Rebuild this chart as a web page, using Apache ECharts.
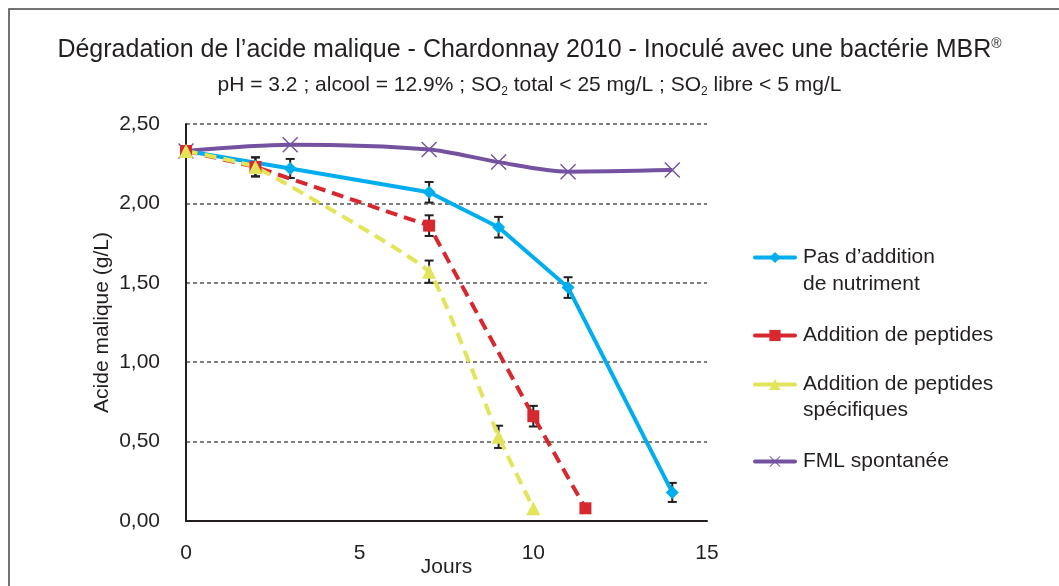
<!DOCTYPE html>
<html>
<head>
<meta charset="utf-8">
<script src="https://cdn.jsdelivr.net/npm/echarts@6/dist/echarts.min.js"></script>
<style>
  html, body { margin: 0; padding: 0; background: #fff; }
  #chart { width: 1059px; height: 586px; }
</style>
</head>
<body>
<div id="chart"></div>
<script>
// noms des séries
const nameBlue = 'Pas d\u2019addition de nutriment'
const nameRed = 'Addition de peptides'
const nameYellow = 'Addition de peptides spécifiques'
const namePurple = 'FML spontanée'

// libellés de légende sur deux lignes
const legendLines = {}
legendLines[nameBlue] = ['Pas d\u2019addition', 'de nutriment']
legendLines[nameRed] = ['Addition de peptides']
legendLines[nameYellow] = ['Addition de peptides', 'spécifiques']
legendLines[namePurple] = ['FML spontanée']

// jours et valeurs (g/L), écarts (demi-barre d'erreur, 0 = pas de barre)
const blueDays = [0, 3, 7, 9, 11, 14]
const blueVals = [2.33, 2.22, 2.07, 1.85, 1.47, 0.18]
const blueErr = [0, 0.06, 0.065, 0.065, 0.065, 0.06]

const redDays = [0, 2, 7, 10, 11.5]
const redVals = [2.33, 2.23, 1.86, 0.66, 0.08]
const redErr = [0, 0.06, 0.065, 0.065, 0]

const yellowDays = [0, 2, 7, 9, 10]
const yellowVals = [2.33, 2.23, 1.57, 0.53, 0.08]
const yellowErr = [0, 0.06, 0.07, 0.07, 0]

const purpleDays = [0, 3, 7, 9, 11, 14]
const purpleVals = [2.33, 2.37, 2.34, 2.26, 2.20, 2.21]

const xTicks = [0, 5, 10, 15]
const yTicks = [0, 0.5, 1, 1.5, 2, 2.5]

const font = 'Liberation Sans, Arial, sans-serif'
const textColor = '#231f20'
const colors = { blue: '#00aeef', red: '#d7282f', yellow: '#e2e55a', purple: '#7452a0' }
const crossPath = 'path://M0,1 L1,0 L8,7 L15,0 L16,1 L9,8 L16,15 L15,16 L8,9 L1,16 L0,15 L7,8 Z'

function pairs (days, vals) {
  return days.map((d, i) => [d, vals[i]])
}
function errData (days, vals, errs) {
  let out = []
  days.forEach((d, i) => {
    if (errs[i] > 0) out.push([d, vals[i] - errs[i], vals[i] + errs[i]])
  })
  return out
}
const errorBars = []
  .concat(errData(blueDays, blueVals, blueErr))
  .concat(errData(redDays, redVals, redErr))
  .concat(errData(yellowDays, yellowVals, yellowErr))

let chart = echarts.init(document.getElementById('chart'))

// une légende par série, icône alignée sur la première ligne
function oneLegend (name, top) {
  return {
    data: [name],
    left: 753,
    top: top,
    padding: 0,
    itemWidth: 40,
    itemHeight: 14,
    lineStyle: { type: 'solid', width: 4, cap: 'round' },
    formatter: n => legendLines[n][0],
    textStyle: {
      fontFamily: font,
      fontSize: 21,
      color: textColor,
      padding: [0, 0, 0, 3]
    }
  }
}
function secondLine (name, y) {
  return {
    type: 'text',
    left: 803,
    top: y,
    silent: true,
    style: { text: legendLines[name][1], font: '21px ' + font, fill: textColor }
  }
}

let option = {
  backgroundColor: '#fff',
  animation: false,
  title: {
    text: 'Dégradation de l\u2019acide malique - Chardonnay 2010 - Inoculé avec une bactérie MBR{sup|®}',
    subtext: 'pH = 3.2 ; alcool = 12.9% ; SO{sub|2} total < 25 mg/L ; SO{sub|2} libre < 5 mg/L',
    left: 'center',
    top: 32,
    itemGap: 11,
    textStyle: {
      fontFamily: font,
      fontSize: 25,
      fontWeight: 'normal',
      color: textColor,
      rich: {
        sup: { fontFamily: font, fontSize: 14, color: textColor, padding: [0, 0, 12, 0] }
      }
    },
    subtextStyle: {
      fontFamily: font,
      fontSize: 21,
      color: textColor,
      rich: {
        sub: { fontFamily: font, fontSize: 12, color: textColor, padding: [12, 0, 0, 0] }
      }
    }
  },
  graphic: [
    {
      type: 'rect',
      shape: { x: 9, y: 9, width: 1200, height: 700 },
      style: { fill: 'none', stroke: '#444', lineWidth: 1.5 },
      silent: true
    },
    secondLine(nameBlue, 274),
    secondLine(nameYellow, 400)
  ],
  legend: [
    oneLegend(nameBlue, 247),
    oneLegend(nameRed, 325),
    oneLegend(nameYellow, 374),
    oneLegend(namePurple, 451)
  ],
  grid: {
    left: 186,
    right: 352,
    top: 124,
    bottom: 65,
    outerBoundsMode: 'none'
  },
  xAxis: {
    type: 'value',
    min: 0,
    max: 15,
    interval: 5,
    name: 'Jours',
    nameLocation: 'middle',
    nameGap: 36,
    nameMoveOverlap: false,
    nameTextStyle: { fontFamily: font, fontSize: 21, color: textColor },
    axisLine: { lineStyle: { color: textColor, width: 2 } },
    axisTick: { show: false },
    splitLine: { show: false },
    axisLabel: {
      fontFamily: font,
      fontSize: 21,
      color: textColor,
      margin: 22,
      customValues: xTicks
    }
  },
  yAxis: {
    type: 'value',
    min: 0,
    max: 2.5,
    interval: 0.5,
    name: 'Acide malique (g/L)',
    nameLocation: 'middle',
    nameGap: 73,
    nameMoveOverlap: false,
    nameTextStyle: { fontFamily: font, fontSize: 21, color: textColor },
    axisLine: { show: true, lineStyle: { color: textColor, width: 2 } },
    axisTick: { show: false },
    splitLine: { show: true, lineStyle: { color: '#555', width: 1.5, type: [4, 3] } },
    axisLabel: {
      fontFamily: font,
      fontSize: 21,
      color: textColor,
      margin: 26,
      customValues: yTicks,
      formatter: v => v.toFixed(2).replace('.', ',')
    }
  },
  series: [
    {
      name: namePurple,
      type: 'line',
      smooth: 0.3,
      data: pairs(purpleDays, purpleVals),
      symbol: crossPath,
      symbolSize: 16,
      lineStyle: { color: colors.purple, width: 4 },
      itemStyle: { color: colors.purple }
    },
    {
      name: nameBlue,
      type: 'line',
      smooth: false,
      data: pairs(blueDays, blueVals),
      symbol: 'diamond',
      symbolSize: 13,
      lineStyle: { color: colors.blue, width: 4 },
      itemStyle: { color: colors.blue }
    },
    {
      name: nameRed,
      type: 'line',
      smooth: false,
      data: pairs(redDays, redVals),
      symbol: 'rect',
      symbolSize: 12,
      lineStyle: { color: colors.red, width: 4, type: [12, 7] },
      itemStyle: { color: colors.red }
    },
    {
      name: nameYellow,
      type: 'line',
      smooth: 0.1,
      data: pairs(yellowDays, yellowVals),
      symbol: 'triangle',
      symbolSize: 14,
      lineStyle: { color: colors.yellow, width: 4, type: [12, 7] },
      itemStyle: { color: colors.yellow }
    },
    {
      name: 'erreur',
      type: 'custom',
      silent: true,
      z: 1,
      data: errorBars,
      renderItem: function (params, api) {
        let x = api.value(0)
        let lo = api.coord([x, api.value(1)])
        let hi = api.coord([x, api.value(2)])
        let cap = 4.5
        let style = { stroke: textColor, lineWidth: 2 }
        return {
          type: 'group',
          children: [
            { type: 'line', shape: { x1: lo[0], y1: lo[1], x2: hi[0], y2: hi[1] }, style: style },
            { type: 'line', shape: { x1: lo[0] - cap, y1: lo[1], x2: lo[0] + cap, y2: lo[1] }, style: style },
            { type: 'line', shape: { x1: hi[0] - cap, y1: hi[1], x2: hi[0] + cap, y2: hi[1] }, style: style }
          ]
        }
      }
    }
  ]
}
chart.setOption(option)
</script>
</body>
</html>
